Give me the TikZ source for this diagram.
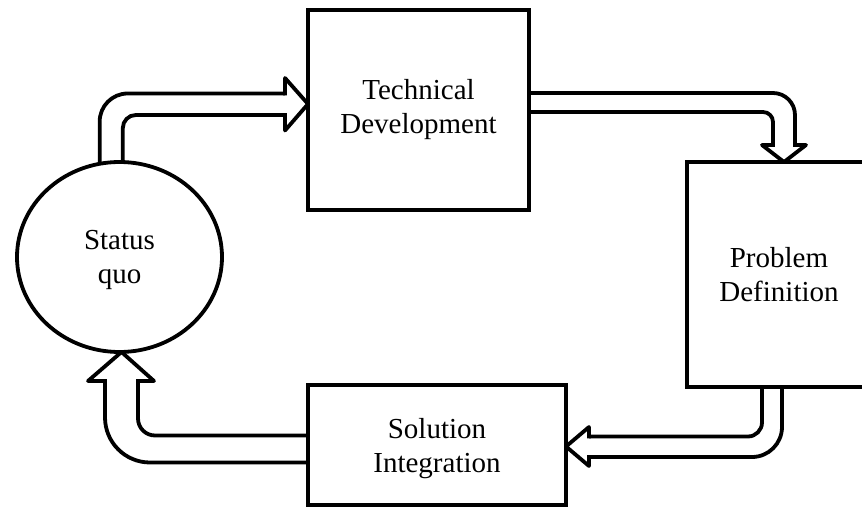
\documentclass[tikz,border=0pt]{standalone}
\usepackage{fontspec}
\setmainfont{Liberation Serif}
\usetikzlibrary{shapes.geometric}

\tikzset{
  frame/.style={draw, line width=3.8pt, inner sep=0pt, outer sep=0pt,
    align=center, font=\fontsize{29}{34}\selectfont},
  boxnode/.style={frame, rectangle},
  roundnode/.style={frame, ellipse},
  shaftline/.style={line width=3.8pt},
  headline/.style={line width=3.8pt, line cap=rect, line join=round},
}

\begin{document}
\begin{tikzpicture}[x=1pt, y=-1pt]
\useasboundingbox (0,0) rectangle (862,508);

% stages of the cycle
\node[roundnode, minimum width=205pt, minimum height=190pt, text depth=0pt] (status) at (119.5,257) {Status\\quo};
\node[boxnode, minimum width=221pt, minimum height=200pt] (tech) at (418.5,110) {Technical\\Development};
\node[boxnode, minimum width=184pt, minimum height=225pt] (prob) at (779,274.5) {Problem\\Definition};
\node[boxnode, minimum width=258pt, minimum height=120pt, text depth=0pt] (sol) at (437,445) {Solution\\Integration};

% arrow tips touching the target stages
\coordinate (t1) at ([yshift=6pt]tech.west);
\coordinate (t2) at ([xshift=5pt]prob.north);
\coordinate (t3) at ([yshift=-1.5pt]sol.east);
\coordinate (t4) at ([xshift=2pt]status.south);

% Status quo -> Technical Development
\draw[shaftline, rounded corners=28pt] (status.102) |- (285,93.5);
\draw[shaftline, rounded corners=13pt] (status.88) |- (285,115);
\draw[headline] (285,93.5) -- (285,78) -- (t1) -- (285,130.5) -- (285,115);

% Technical Development -> Problem Definition
\draw[shaftline, rounded corners=22pt] ([yshift=17pt]tech.east) -| (795,145);
\draw[shaftline, rounded corners=10pt] ([yshift=-2pt]tech.east) -| (773,145);
\draw[headline] (773,145) -- (762,145) -- (t2) -- (806,145) -- (795,145);

% Problem Definition -> Solution Integration
\draw[shaftline, rounded corners=30pt] ([xshift=3pt]prob.south) |- (589,457);
\draw[shaftline, rounded corners=14pt] ([xshift=-17pt]prob.south) |- (589,436.5);
\draw[headline] (589,436.5) -- (589,427) -- (t3) -- (589,466) -- (589,457);

% Solution Integration -> Status quo
\draw[shaftline, rounded corners=45pt] ([yshift=-17.5pt]sol.west) -| (105,381);
\draw[shaftline, rounded corners=17pt] ([yshift=9.5pt]sol.west) -| (138,381);
\draw[headline] (105,381) -- (88,381) -- (t4) -- (154,381) -- (138,381);
\end{tikzpicture}
\end{document}
